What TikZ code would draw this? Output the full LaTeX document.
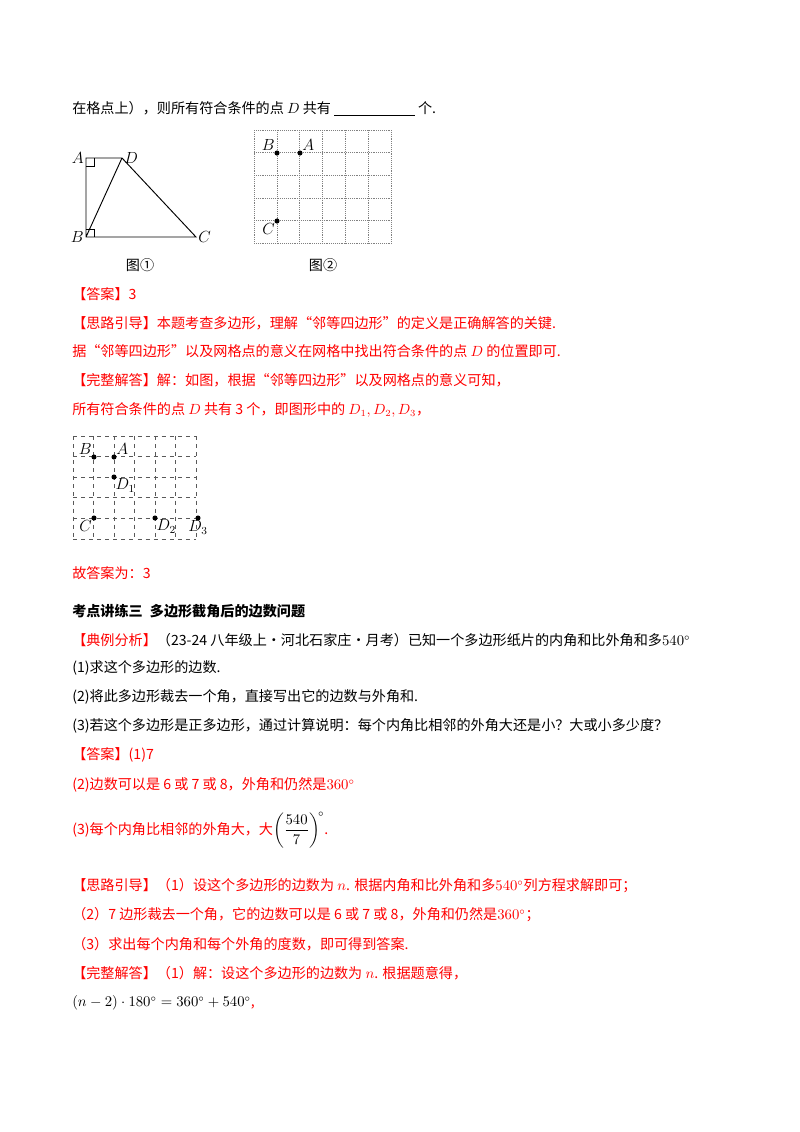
\documentclass[tikz,border=0pt]{standalone}
\usepackage{amsmath}
\usepackage{fontspec}
\setmainfont{Noto Sans CJK SC}
\begin{document}
\begin{tikzpicture}[x=0.744pt,y=-0.744pt,
 t/.style={anchor=west,inner sep=0,font=\fontsize{10.5pt}{12pt}\selectfont},
 r/.style={t,text=red},
 dot/.style={circle,fill=black,inner sep=0,minimum size=3.8pt},
 gd/.style={gray,densely dotted,line width=0.4pt},
 gdash/.style={gray!70!black,dashed,line width=0.5pt},
 lab/.style={inner sep=1.5pt,font=\fontsize{12pt}{13pt}\selectfont}]
\useasboundingbox (0,0) rectangle (800,1132);
\node[t] (l1) at (72,109) {在格点上），则所有符合条件的点 $D$ 共有 \underline{\hspace{60pt}} 个.};
% fig 1
\coordinate (A) at (86,158); \coordinate (D) at (122,158);
\coordinate (B) at (86,237); \coordinate (C) at (196,237);
\draw[line width=0.7pt] (A)--(D)--(C)--(B)--cycle (B)--(D);
\draw[line width=0.5pt] (86,166)-|(94,158) (86,229)-|(94,237);
\node[lab,left] at (A) {$A$}; \node[lab,right] at (D) {$D$};
\node[lab,left] at (B) {$B$}; \node[lab,right] at (C) {$C$};
\node[t,anchor=center] (f1) at (140,265) {图①};
% fig 2
\foreach \i in {0,...,6} \draw[gd] (254+22.8*\i,130)--(254+22.8*\i,243);
\foreach \j in {0,...,5} \draw[gd] (254,130+22.6*\j)--(391,130+22.6*\j);
\node[dot] (pB) at (277,153) {}; \node[dot] (pA) at (300,153) {}; \node[dot] (pC) at (277,221) {};
\node[lab,above left] at (pB) {$B$}; \node[lab,above right] at (pA) {$A$};
\node[lab,below left] at (pC) {$C$};
\node[t,anchor=center] (f2) at (323,265) {图②};
\node[r] at (72,294) {【答案】3};
\node[r] at (72,323) {【思路引导】本题考查多边形，理解“邻等四边形”的定义是正确解答的关键.};
\node[r] at (72,351) {据“邻等四边形”以及网格点的意义在网格中找出符合条件的点 $D$ 的位置即可.};
\node[r] at (72,380) {【完整解答】解：如图，根据“邻等四边形”以及网格点的意义可知，};
\node[r] at (72,410) {所有符合条件的点 $D$ 共有 3 个，即图形中的 $D_1,D_2,D_3$，};
% fig 3
\foreach \i in {0,...,6} \draw[gdash] (73+20.5*\i,436)--(73+20.5*\i,539);
\foreach \j in {0,...,5} \draw[gdash] (73,436+20.6*\j)--(196,436+20.6*\j);
\node[dot] (qB) at (94,457) {}; \node[dot] (qA) at (114,457) {};
\node[dot] (q1) at (114,477) {}; \node[dot] (qC) at (94,518) {};
\node[dot] (q2) at (155,518) {}; \node[dot] (q3) at (198,518) {};
\node[lab,above left] at (qB) {$B$}; \node[lab,above right] at (qA) {$A$};
\node[lab,below right,inner sep=1pt] at (q1) {$D_1$};
\node[lab,below left] at (qC) {$C$}; \node[lab,below right,inner sep=1pt] at (q2) {$D_2$};
\node[lab,below,inner sep=2pt] at (q3) {$D_3$};
\node[r] at (72,573) {故答案为：3};
\node[t,font=\fontsize{10.5pt}{12pt}\selectfont\bfseries] at (72,611) {考点讲练三\enspace 多边形截角后的边数问题};
\node[t] at (72,640) {\textcolor{red}{【典例分析】}（23-24 八年级上•河北石家庄•月考）已知一个多边形纸片的内角和比外角和多$540^\circ$};
\node[t] at (72,668) {(1)求这个多边形的边数.};
\node[t] at (72,697) {(2)将此多边形裁去一个角，直接写出它的边数与外角和.};
\node[t] at (72,726) {(3)若这个多边形是正多边形，通过计算说明：每个内角比相邻的外角大还是小？大或小多少度？};
\node[r] at (72,755) {【答案】(1)7};
\node[r] at (72,785) {(2)边数可以是 6 或 7 或 8，外角和仍然是$360^\circ$};
\node[r] at (72,830) {(3)每个内角比相邻的外角大，大\textcolor{black}{$\left(\dfrac{540}{7}\right)^{\!\circ}$}.};
\node[r] at (72,886) {【思路引导】（1）设这个多边形的边数为 $n$. 根据内角和比外角和多$540^\circ$列方程求解即可；};
\node[r] at (72,915) {（2）7 边形裁去一个角，它的边数可以是 6 或 7 或 8，外角和仍然是$360^\circ$；};
\node[r] at (72,944) {（3）求出每个内角和每个外角的度数，即可得到答案.};
\node[r] at (72,973) {【完整解答】（1）解：设这个多边形的边数为 $n$. 根据题意得，};
\node[t] at (72,1003) {$(n-2)\cdot180^\circ=360^\circ+540^\circ$\textcolor{red}{,}};
\end{tikzpicture}
\end{document}
